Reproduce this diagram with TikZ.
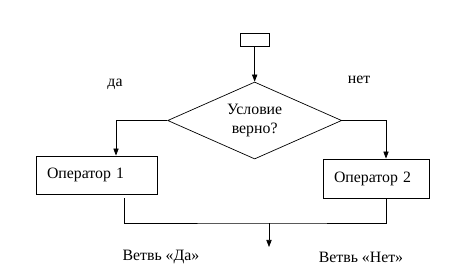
\documentclass[tikz,border=0pt]{standalone}
\usepackage{fontspec}
\setmainfont{Liberation Serif}
\usetikzlibrary{shapes.geometric,arrows.meta}
\begin{document}
\begin{tikzpicture}[>={Triangle[length=6pt,width=4.5pt]}, font=\fontsize{13.5}{15.5}\selectfont, line width=0.6pt]
\useasboundingbox (0,0) rectangle (14.01,-8.31);
\node[draw, rectangle, minimum width=0.87cm, minimum height=0.39cm, inner sep=0pt] (start) at (7.64,-1.185) {};
\node[draw, diamond, aspect=2.27, minimum width=5.22cm, minimum height=2.31cm, inner sep=0pt, align=center] (cond) at (7.64,-3.615) {Условие\\верно?};
\node[draw, rectangle, line width=0.8pt, minimum width=3.63cm, minimum height=1.14cm, inner xsep=0.33cm, text width=2.97cm, align=left] (op1) at (2.895,-5.25) {Оператор 1};
\node[draw, rectangle, line width=0.8pt, minimum width=3.18cm, minimum height=1.17cm, inner xsep=0.33cm, text width=2.52cm, align=left] (op2) at (11.28,-5.355) {Оператор 2};
\node (yes) at (3.45,-2.52) {да};
\node (no) at (10.77,-2.4) {нет};
\node (yesbr) at (4.83,-7.71) {Ветвь «Да»};
\node (nobr) at (10.83,-7.71) {Ветвь «Нет»};
\coordinate (join) at (8.07,-6.69);
\coordinate (out) at (8.07,-7.41);
\draw[->] (start) -- (cond.north);
\draw[->] (cond.west) -| ([xshift=0.585cm]op1.north);
\draw[->] (cond.east) -| ([xshift=0.3cm]op2.north);
\draw ([xshift=0.825cm, yshift=-0.12cm]op1.south) |- (join) -| ([xshift=0.3cm]op2.south);
\draw[->] (join) -- (out);
\end{tikzpicture}
\end{document}
